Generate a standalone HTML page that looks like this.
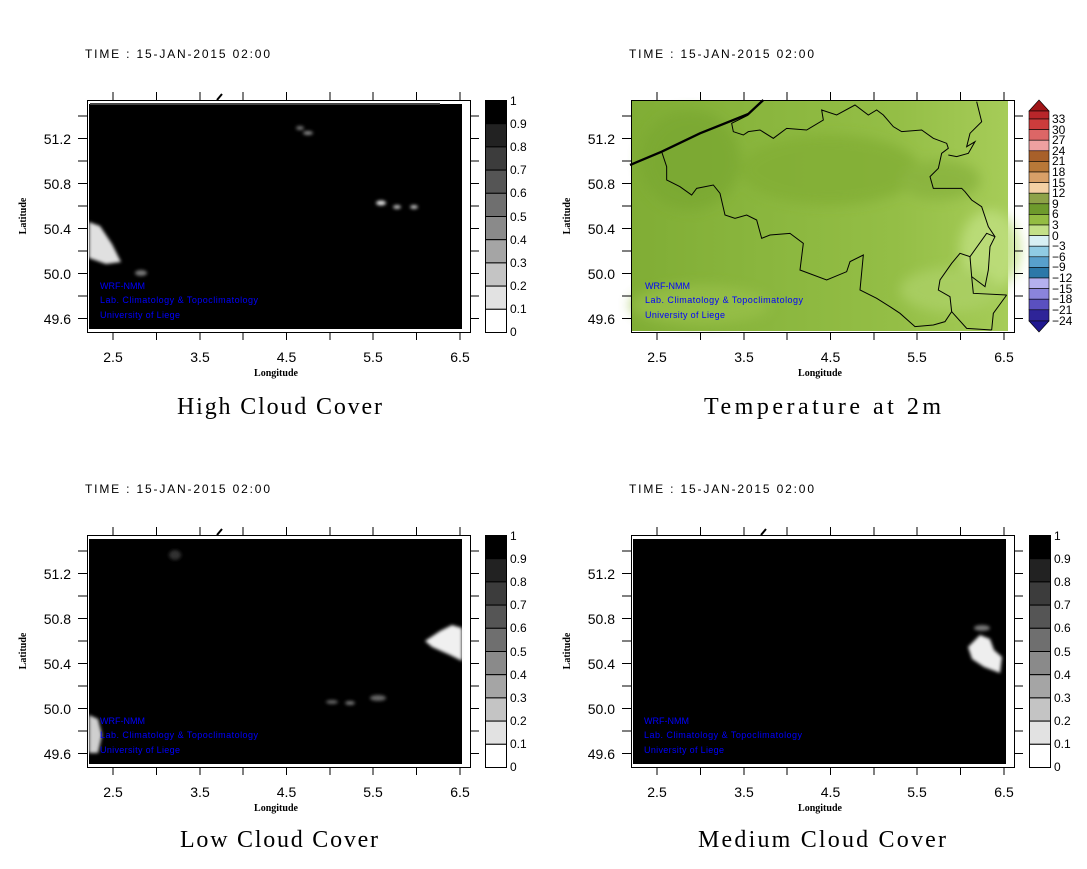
<!DOCTYPE html>
<html><head><meta charset="utf-8"><style>
html,body{margin:0;padding:0;background:#fff;}
svg{display:block;}
.t{font-family:"Liberation Sans",sans-serif;font-size:12px;fill:#000;}
.tk{font-family:"Liberation Sans",sans-serif;font-size:14px;fill:#000;}
.cb{font-family:"Liberation Sans",sans-serif;font-size:12px;fill:#000;}
.ax{font-family:"Liberation Serif",serif;font-size:10px;font-weight:bold;fill:#000;}
.ti{font-family:"Liberation Serif",serif;font-size:24px;fill:#000;}
.wm{font-family:"Liberation Sans",sans-serif;font-size:9px;fill:#0000ff;}
</style></head><body>
<svg width="1087" height="869" viewBox="0 0 1087 869" xmlns="http://www.w3.org/2000/svg">
<defs>
<g id="frame" stroke="#000" stroke-width="1" fill="none">
 <rect x="87.5" y="100.5" width="383" height="232"/>
 <path d="M113 92V100M156.5 92V100M200 92V100M243 92V100M286.5 92V100M330 92V100M373 92V100M416.5 92V100M460 92V100
 M113 332V340M156.5 332V340M200 332V340M243 332V340M286.5 332V340M330 332V340M373 332V340M416.5 332V340M460 332V340
 M78 116H87M78 138.5H87M78 161H87M78 183.5H87M78 206H87M78 228.5H87M78 251H87M78 273.5H87M78 296H87M78 318.5H87
 M470 116H479M470 138.5H479M470 161H479M470 183.5H479M470 206H479M470 228.5H479M470 251H479M470 273.5H479M470 296H479M470 318.5H479"/>
</g>
<g id="gcb" stroke="#000" stroke-width="1">
 <rect x="485.5" y="100.5" width="21" height="23.2" fill="#000"/>
 <rect x="485.5" y="123.7" width="21" height="23.2" fill="#222"/>
 <rect x="485.5" y="146.9" width="21" height="23.2" fill="#3c3c3c"/>
 <rect x="485.5" y="170.1" width="21" height="23.2" fill="#555"/>
 <rect x="485.5" y="193.3" width="21" height="23.2" fill="#6f6f6f"/>
 <rect x="485.5" y="216.5" width="21" height="23.2" fill="#8a8a8a"/>
 <rect x="485.5" y="239.7" width="21" height="23.2" fill="#a5a5a5"/>
 <rect x="485.5" y="262.9" width="21" height="23.2" fill="#c4c4c4"/>
 <rect x="485.5" y="286.1" width="21" height="23.2" fill="#e2e2e2"/>
 <rect x="485.5" y="309.3" width="21" height="23.2" fill="#fff"/>
</g>
<linearGradient id="gr" x1="0" x2="1" y1="0" y2="0">
 <stop offset="0" stop-color="#80ad35"/><stop offset="0.35" stop-color="#8ab63e"/>
 <stop offset="0.7" stop-color="#94be46"/><stop offset="1" stop-color="#a6cc58"/>
</linearGradient>
<filter id="bl"><feGaussianBlur stdDeviation="6"/></filter>
<filter id="bl2"><feGaussianBlur stdDeviation="1.5"/></filter>
</defs>

<!-- Panel 1: High Cloud -->
<text class="t" x="85" y="58" textLength="185">TIME : 15-JAN-2015 02:00</text>
<rect x="89" y="104" width="373" height="225" fill="#000"/>
<path d="M90 104H440" stroke="#444" stroke-width="2"/>
<g filter="url(#bl2)">
<path d="M89 222L100 226L112 244L121 262L106 264L89 258Z" fill="#e0e0e0"/>
<ellipse cx="141" cy="273" rx="6" ry="3" fill="#777"/>
<ellipse cx="300" cy="128" rx="4" ry="2" fill="#777"/>
<ellipse cx="308" cy="133" rx="5" ry="2" fill="#888"/>
<ellipse cx="381" cy="203" rx="5" ry="2.5" fill="#ddd"/>
<ellipse cx="397" cy="207" rx="4" ry="2" fill="#bbb"/>
<ellipse cx="414" cy="207" rx="4" ry="2" fill="#bbb"/>
</g>
<path d="M217 100L222 94" stroke="#000" stroke-width="2"/>
<text class="wm" x="100" y="289">WRF-NMM</text>
<text class="wm" x="100" y="303" textLength="158">Lab. Climatology &amp; Topoclimatology</text>
<text class="wm" x="100" y="318" textLength="80">University of Liege</text>
<use href="#frame"/>
<use href="#gcb"/>
<g class="cb"><text x="510" y="105">1</text><text x="510" y="128">0.9</text><text x="510" y="151">0.8</text><text x="510" y="174">0.7</text><text x="510" y="197">0.6</text><text x="510" y="221">0.5</text><text x="510" y="244">0.4</text><text x="510" y="267">0.3</text><text x="510" y="290">0.2</text><text x="510" y="313">0.1</text><text x="510" y="336">0</text></g>
<g class="tk" text-anchor="end"><text x="71" y="144">51.2</text><text x="71" y="189">50.8</text><text x="71" y="234">50.4</text><text x="71" y="279">50.0</text><text x="71" y="324">49.6</text></g>
<g class="tk" text-anchor="middle"><text x="113" y="362">2.5</text><text x="200" y="362">3.5</text><text x="286.5" y="362">4.5</text><text x="373" y="362">5.5</text><text x="460" y="362">6.5</text></g>
<text class="ax" x="276" y="376" text-anchor="middle">Longitude</text>
<text class="ax" transform="translate(26,216) rotate(-90)" text-anchor="middle">Latitude</text>
<text class="ti" x="177" y="414" textLength="205">High Cloud Cover</text>

<!-- Panel 2: Temperature -->
<g transform="translate(544,0)">
<text class="t" x="85" y="58" textLength="185">TIME : 15-JAN-2015 02:00</text>
</g>
<rect x="632" y="101" width="376" height="230" fill="url(#gr)"/>
<g filter="url(#bl)" opacity="0.8">
<ellipse cx="690" cy="160" rx="50" ry="50" fill="#7aa830"/>
<ellipse cx="830" cy="170" rx="90" ry="35" fill="#82ae36"/>
<ellipse cx="700" cy="305" rx="70" ry="20" fill="#98c04a"/>
<ellipse cx="990" cy="250" rx="30" ry="40" fill="#c0e080"/>
<ellipse cx="950" cy="290" rx="50" ry="22" fill="#acd066"/>
<ellipse cx="940" cy="180" rx="40" ry="20" fill="#88b23c"/>
</g>
<g transform="translate(600,90) scale(0.33333)" fill="none" stroke="#000" stroke-width="3">
<path d="M185 185L200 230L200 270L240 290L275 315L290 295L340 285L360 310L375 375L405 385L440 375L470 390L485 445L510 435L570 430L610 460L600 540L680 570L740 545L750 515L790 495L780 600L830 625L870 650L900 670L945 710L1000 705L1035 695L1055 665L1050 620L1015 600L1020 570L1055 520L1080 490L1110 500L1115 560L1155 590L1165 540L1170 470L1185 440L1165 410L1145 350L1115 330L1095 305L1085 295L1040 295L1000 295L990 260L1015 235L1025 190L1045 175L1040 160L1000 145L965 120L905 125L880 110L850 75L830 60L805 75L765 45L710 75L665 60L670 90L620 120L560 115L520 145L480 120L445 125L430 135L400 125L395 100L445 75"/>
<path d="M1130 35L1145 95L1110 130L1100 170L1125 155L1105 190L1070 200L1045 195"/>
<path d="M1110 500L1160 430L1185 440M1115 560L1120 610L1220 615M1055 665L1100 715L1175 720M1220 615L1180 670L1175 720"/>
<path d="M90 225L185 185L300 130L445 72L490 30" stroke-width="7"/>
</g>
<text class="wm" x="645" y="289">WRF-NMM</text>
<text class="wm" x="645" y="303" textLength="158">Lab. Climatology &amp; Topoclimatology</text>
<text class="wm" x="645" y="318" textLength="80">University of Liege</text>
<use href="#frame" transform="translate(544,0)"/>
<g stroke="#000" stroke-width="0.6">
<path d="M1029 111L1039 100L1049 111Z" fill="#a01518"/>
<rect x="1029" y="111" width="20" height="8" fill="#b8262a"/>
<rect x="1029" y="119" width="20" height="10.6" fill="#cc3c3c"/>
<rect x="1029" y="129.6" width="20" height="10.6" fill="#dc6666"/>
<rect x="1029" y="140.2" width="20" height="10.6" fill="#eea0a0"/>
<rect x="1029" y="150.8" width="20" height="10.6" fill="#a8602a"/>
<rect x="1029" y="161.4" width="20" height="10.6" fill="#b87838"/>
<rect x="1029" y="172" width="20" height="10.6" fill="#d8a068"/>
<rect x="1029" y="182.6" width="20" height="10.6" fill="#f4d0a4"/>
<rect x="1029" y="193.2" width="20" height="10.6" fill="#8ea248"/>
<rect x="1029" y="203.8" width="20" height="10.6" fill="#6e9a2c"/>
<rect x="1029" y="214.4" width="20" height="10.6" fill="#94bc42"/>
<rect x="1029" y="225" width="20" height="10.6" fill="#c4e088"/>
<rect x="1029" y="235.6" width="20" height="10.6" fill="#d8f0f4"/>
<rect x="1029" y="246.2" width="20" height="10.6" fill="#90cce4"/>
<rect x="1029" y="256.8" width="20" height="10.6" fill="#58a0cc"/>
<rect x="1029" y="267.4" width="20" height="10.6" fill="#2c78a8"/>
<rect x="1029" y="278" width="20" height="10.6" fill="#b4b0ee"/>
<rect x="1029" y="288.6" width="20" height="10.6" fill="#8a84dc"/>
<rect x="1029" y="299.2" width="20" height="10.6" fill="#5a50c0"/>
<rect x="1029" y="309.8" width="20" height="11.2" fill="#2e2498"/>
<path d="M1029 321L1039 332L1049 321Z" fill="#201890"/>
</g>
<g class="cb"><text x="1052" y="123">33</text><text x="1052" y="134">30</text><text x="1052" y="144">27</text><text x="1052" y="155">24</text><text x="1052" y="165">21</text><text x="1052" y="176">18</text><text x="1052" y="187">15</text><text x="1052" y="197">12</text><text x="1052" y="208">9</text><text x="1052" y="218">6</text><text x="1052" y="229">3</text><text x="1052" y="240">0</text><text x="1052" y="250">−3</text><text x="1052" y="261">−6</text><text x="1052" y="271">−9</text><text x="1052" y="282">−12</text><text x="1052" y="293">−15</text><text x="1052" y="303">−18</text><text x="1052" y="314">−21</text><text x="1052" y="325">−24</text></g>
<g class="tk" text-anchor="end"><text x="615" y="144">51.2</text><text x="615" y="189">50.8</text><text x="615" y="234">50.4</text><text x="615" y="279">50.0</text><text x="615" y="324">49.6</text></g>
<g class="tk" text-anchor="middle"><text x="657" y="362">2.5</text><text x="744" y="362">3.5</text><text x="830.5" y="362">4.5</text><text x="917" y="362">5.5</text><text x="1004" y="362">6.5</text></g>
<text class="ax" x="820" y="376" text-anchor="middle">Longitude</text>
<text class="ax" transform="translate(570,216) rotate(-90)" text-anchor="middle">Latitude</text>
<text class="ti" x="704" y="414" textLength="237">Temperature at 2m</text>

<!-- Panel 3: Low Cloud -->
<g transform="translate(0,435)">
<text class="t" x="85" y="58" textLength="185">TIME : 15-JAN-2015 02:00</text>
<rect x="89" y="104" width="373" height="225" fill="#000"/>
<g filter="url(#bl2)">
<path d="M425 206L440 196L452 190L462 193L462 226L450 220L432 212Z" fill="#f0f0f0"/>
<path d="M89 280L98 284L102 300L98 318L89 318Z" fill="#cfcfcf"/>
<ellipse cx="332" cy="267" rx="6" ry="2" fill="#666"/>
<ellipse cx="350" cy="268" rx="5" ry="2" fill="#777"/>
<ellipse cx="378" cy="263" rx="8" ry="3" fill="#666"/>
<ellipse cx="175" cy="120" rx="6" ry="5" fill="#333"/>
</g>
<path d="M217 100L222 94" stroke="#000" stroke-width="2"/>
<text class="wm" x="100" y="289">WRF-NMM</text>
<text class="wm" x="100" y="303" textLength="158">Lab. Climatology &amp; Topoclimatology</text>
<text class="wm" x="100" y="318" textLength="80">University of Liege</text>
<use href="#frame"/>
<use href="#gcb"/>
<g class="cb"><text x="510" y="105">1</text><text x="510" y="128">0.9</text><text x="510" y="151">0.8</text><text x="510" y="174">0.7</text><text x="510" y="197">0.6</text><text x="510" y="221">0.5</text><text x="510" y="244">0.4</text><text x="510" y="267">0.3</text><text x="510" y="290">0.2</text><text x="510" y="313">0.1</text><text x="510" y="336">0</text></g>
<g class="tk" text-anchor="end"><text x="71" y="144">51.2</text><text x="71" y="189">50.8</text><text x="71" y="234">50.4</text><text x="71" y="279">50.0</text><text x="71" y="324">49.6</text></g>
<g class="tk" text-anchor="middle"><text x="113" y="362">2.5</text><text x="200" y="362">3.5</text><text x="286.5" y="362">4.5</text><text x="373" y="362">5.5</text><text x="460" y="362">6.5</text></g>
<text class="ax" x="276" y="376" text-anchor="middle">Longitude</text>
<text class="ax" transform="translate(26,216) rotate(-90)" text-anchor="middle">Latitude</text>
<text class="ti" x="180" y="412" textLength="198">Low Cloud Cover</text>
</g>

<!-- Panel 4: Medium Cloud -->
<g transform="translate(544,435)">
<text class="t" x="85" y="58" textLength="185">TIME : 15-JAN-2015 02:00</text>
<rect x="89" y="104" width="373" height="225" fill="#000"/>
<g filter="url(#bl2)">
<path d="M424 212L436 200L446 204L450 215L458 222L456 238L440 232L428 224Z" fill="#eeeeee"/>
<ellipse cx="438" cy="193" rx="8" ry="3" fill="#777"/>
</g>
<path d="M217 100L222 94" stroke="#000" stroke-width="2"/>
<text class="wm" x="100" y="289">WRF-NMM</text>
<text class="wm" x="100" y="303" textLength="158">Lab. Climatology &amp; Topoclimatology</text>
<text class="wm" x="100" y="318" textLength="80">University of Liege</text>
<use href="#frame"/>
<use href="#gcb"/>
<g class="cb"><text x="510" y="105">1</text><text x="510" y="128">0.9</text><text x="510" y="151">0.8</text><text x="510" y="174">0.7</text><text x="510" y="197">0.6</text><text x="510" y="221">0.5</text><text x="510" y="244">0.4</text><text x="510" y="267">0.3</text><text x="510" y="290">0.2</text><text x="510" y="313">0.1</text><text x="510" y="336">0</text></g>
<g class="tk" text-anchor="end"><text x="71" y="144">51.2</text><text x="71" y="189">50.8</text><text x="71" y="234">50.4</text><text x="71" y="279">50.0</text><text x="71" y="324">49.6</text></g>
<g class="tk" text-anchor="middle"><text x="113" y="362">2.5</text><text x="200" y="362">3.5</text><text x="286.5" y="362">4.5</text><text x="373" y="362">5.5</text><text x="460" y="362">6.5</text></g>
<text class="ax" x="276" y="376" text-anchor="middle">Longitude</text>
<text class="ax" transform="translate(26,216) rotate(-90)" text-anchor="middle">Latitude</text>
<text class="ti" x="154" y="412" textLength="248">Medium Cloud Cover</text>
</g>
</svg>
</body></html>
